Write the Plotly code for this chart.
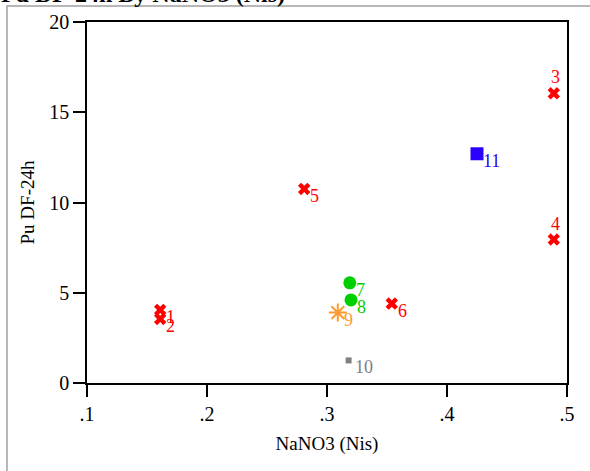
import plotly.graph_objects as go

# Sample points: NaNO3 (Nis) vs Pu DF-24h, labelled by sample id
red_ids = ["1", "2", "3", "4", "5", "6"]
red_x = [0.161, 0.161, 0.489, 0.489, 0.281, 0.354]
red_y = [4.05, 3.55, 16.05, 7.95, 10.75, 4.4]
red_above = [False, False, True, True, False, False]

green_ids = ["7", "8"]
green_x = [0.319, 0.320]
green_y = [5.55, 4.6]

orange_ids = ["9"]
orange_x = [0.309]
orange_y = [3.9]

gray_ids = ["10"]
gray_x = [0.318]
gray_y = [1.25]

blue_ids = ["11"]
blue_x = [0.425]
blue_y = [12.7]

x_ticks = [0.1, 0.2, 0.3, 0.4, 0.5]
x_tick_text = [".1", ".2", ".3", ".4", ".5"]
y_ticks = [0, 5, 10, 15, 20]

FONT = "Liberation Serif"
LABEL_SIZE = 18

fig = go.Figure()

def add_group(xs, ys, ids, color, symbol, size, above=None, line_width=0):
    fig.add_trace(go.Scatter(
        x=xs, y=ys, mode="markers",
        marker=dict(symbol=symbol, size=size, color=color,
                    line=dict(width=line_width, color=color)),
        showlegend=False, cliponaxis=False,
    ))
    above = above or [False] * len(xs)
    for x, y, t, up in zip(xs, ys, ids, above):
        if up:
            pos = dict(xanchor="center", yanchor="bottom", xshift=2, yshift=4)
        else:
            pos = dict(xanchor="left", yanchor="middle", xshift=4, yshift=-7)
        fig.add_annotation(x=x, y=y, text=t, showarrow=False,
                           font=dict(family=FONT, size=LABEL_SIZE, color=color), **pos)

add_group(red_x, red_y, red_ids, "#ff0000", "x", 11, red_above)
add_group(green_x, green_y, green_ids, "#00d000", "circle", 13)
add_group(orange_x, orange_y, orange_ids, "#ff9a30", "asterisk-open", 15, line_width=2)
add_group(gray_x, gray_y, gray_ids, "#808080", "square", 6)
add_group(blue_x, blue_y, blue_ids, "#2a00ff", "square", 13)

axis_common = dict(
    showgrid=False, zeroline=False, showline=True, linecolor="black", linewidth=1.5,
    mirror=True, ticks="outside", ticklen=12, tickwidth=1.5, tickcolor="black",
    tickfont=dict(family=FONT, size=20, color="black"),
)

fig.update_xaxes(range=[0.1, 0.5], tickvals=x_ticks, ticktext=x_tick_text,
                 title=dict(text="NaNO3 (Nis)", font=dict(family=FONT, size=19, color="black"),
                            standoff=13),
                 **axis_common)
fig.update_yaxes(range=[0, 20], tickvals=y_ticks,
                 title=dict(text="Pu DF-24h", font=dict(family=FONT, size=19, color="black"),
                            standoff=10),
                 **axis_common)

# Outer graph-region frame
fig.add_shape(type="rect", xref="paper", yref="paper",
              x0=-0.1667, x1=1.2, y0=-0.5, y1=1.0443,
              line=dict(color="#a0a0a0", width=1.5), layer="below")

# Title, sitting mostly above the visible page
fig.add_annotation(text="<b>Pu DF-24h By NaNO3 (Nis)</b>", xref="paper", yref="paper",
                   x=-0.183, y=1.036, xanchor="left", yanchor="bottom", showarrow=False,
                   font=dict(family=FONT, size=24, color="black"))

fig.update_layout(
    width=590, height=471,
    margin=dict(l=87, r=23, t=22, b=88),
    paper_bgcolor="white", plot_bgcolor="white",
)

fig.write_html("out.html")
